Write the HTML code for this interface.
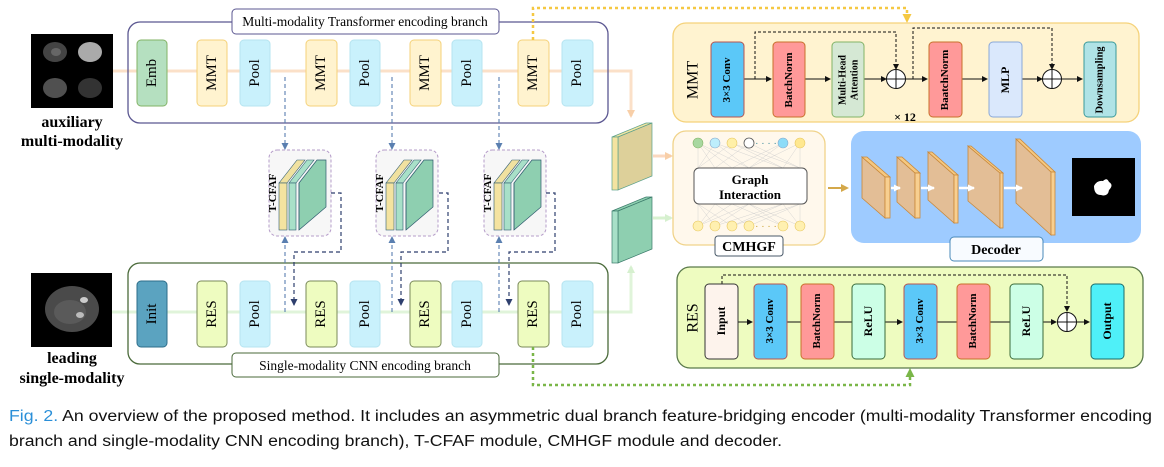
<!DOCTYPE html>
<html><head><meta charset="utf-8"><style>
html,body{margin:0;padding:0;background:#fff;}
svg{display:block;}
.s{font-family:"Liberation Serif",serif;}
.b{font-family:"Liberation Serif",serif;font-weight:bold;}
</style></head><body>
<svg width="1164" height="467" viewBox="0 0 1164 467" xmlns="http://www.w3.org/2000/svg">
<defs>
<marker id="ao" markerWidth="8" markerHeight="8" refX="6" refY="4" orient="auto" markerUnits="userSpaceOnUse"><path d="M0,0 L8,4 L0,8 z" fill="#f8cfa8"/></marker>
<marker id="ag" markerWidth="8" markerHeight="8" refX="6" refY="4" orient="auto" markerUnits="userSpaceOnUse"><path d="M0,0 L8,4 L0,8 z" fill="#d6f0cf"/></marker>
<marker id="ab" markerWidth="7" markerHeight="7" refX="6" refY="3.5" orient="auto" markerUnits="userSpaceOnUse"><path d="M0,0 L7,3.5 L0,7 z" fill="#5a7fb0"/></marker>
<marker id="ad" markerWidth="7" markerHeight="7" refX="6" refY="3.5" orient="auto" markerUnits="userSpaceOnUse"><path d="M0,0 L7,3.5 L0,7 z" fill="#2e3f6e"/></marker>
<marker id="ak" markerWidth="6" markerHeight="6" refX="5" refY="3" orient="auto" markerUnits="userSpaceOnUse"><path d="M0,0 L6,3 L0,6 z" fill="#111"/></marker>
<marker id="ay" markerWidth="9" markerHeight="9" refX="7" refY="4.5" orient="auto" markerUnits="userSpaceOnUse"><path d="M0,0 L9,4.5 L0,9 z" fill="#f5c842"/></marker>
<marker id="agr" markerWidth="9" markerHeight="9" refX="7" refY="4.5" orient="auto" markerUnits="userSpaceOnUse"><path d="M0,0 L9,4.5 L0,9 z" fill="#7ab648"/></marker>
<marker id="agd" markerWidth="8" markerHeight="8" refX="6" refY="4" orient="auto" markerUnits="userSpaceOnUse"><path d="M0,0 L8,4 L0,8 z" fill="#d4a84a"/></marker>
<marker id="aw" markerWidth="7" markerHeight="7" refX="6" refY="3.5" orient="auto" markerUnits="userSpaceOnUse"><path d="M0,0 L7,3.5 L0,7 z" fill="#fff"/></marker>
</defs>

<!-- brain images -->
<rect x="31" y="34" width="82" height="74" fill="#000"/>
<ellipse cx="55" cy="52" rx="12" ry="10" fill="#444"/>
<ellipse cx="56" cy="52" rx="5" ry="4" fill="#666"/>
<ellipse cx="90" cy="52" rx="12" ry="10" fill="#aaa"/>
<ellipse cx="55" cy="88" rx="12" ry="10" fill="#505050"/>
<ellipse cx="90" cy="88" rx="12" ry="10" fill="#333"/>
<text x="72" y="127" class="b" font-size="16" text-anchor="middle">auxiliary</text>
<text x="72" y="146" class="b" font-size="16" text-anchor="middle">multi-modality</text>
<rect x="31" y="273" width="81" height="74" fill="#000"/>
<ellipse cx="72" cy="309" rx="27" ry="23" fill="#4a4a4a"/>
<ellipse cx="70" cy="312" rx="16" ry="12" fill="#5a5a5a"/>
<ellipse cx="84" cy="300" rx="4" ry="3" fill="#ccc"/>
<ellipse cx="80" cy="315" rx="4" ry="3" fill="#bbb"/>
<text x="72" y="363" class="b" font-size="16" text-anchor="middle">leading</text>
<text x="72" y="383" class="b" font-size="16" text-anchor="middle">single-modality</text>

<!-- branch lines -->
<polyline points="113,71 631,71 631,116" fill="none" stroke="#fbe0c8" stroke-width="3" marker-end="url(#ao)"/>
<polyline points="112,312 631,312 631,267" fill="none" stroke="#e0f4da" stroke-width="3" marker-end="url(#ag)"/>

<!-- top branch -->
<rect x="128" y="22" width="480" height="101" rx="12" fill="none" stroke="#5b5791" stroke-width="1.3"/>
<rect x="137" y="40" width="30" height="66" rx="4" fill="#b5e0c0" stroke="#82b366"/>
<g fill="#fff3cf" stroke="#f5d27a">
<rect x="197" y="40" width="30" height="66" rx="4"/><rect x="306" y="40" width="31" height="66" rx="4"/><rect x="410" y="40" width="31" height="66" rx="4"/><rect x="518" y="40" width="31" height="66" rx="4"/></g>
<g fill="#c9f1fc" stroke="#b6e4f0">
<rect x="240" y="40" width="30" height="66" rx="4"/><rect x="350" y="40" width="30" height="66" rx="4"/><rect x="452" y="40" width="30" height="66" rx="4"/><rect x="562" y="40" width="31" height="66" rx="4"/></g>
<g class="s" font-size="15" text-anchor="middle" dominant-baseline="central">
<text transform="translate(152,73) rotate(-90)">Emb</text>
<text transform="translate(212,73) rotate(-90)">MMT</text>
<text transform="translate(255,73) rotate(-90)">Pool</text>
<text transform="translate(321,73) rotate(-90)">MMT</text>
<text transform="translate(365,73) rotate(-90)">Pool</text>
<text transform="translate(425,73) rotate(-90)">MMT</text>
<text transform="translate(467,73) rotate(-90)">Pool</text>
<text transform="translate(533,73) rotate(-90)">MMT</text>
<text transform="translate(577,73) rotate(-90)">Pool</text>
</g>
<rect x="232" y="9" width="267" height="25" rx="4" fill="#fff" stroke="#5b5791"/>
<text x="365" y="26" class="s" font-size="13.5" text-anchor="middle">Multi-modality Transformer encoding branch</text>

<!-- bottom branch -->
<rect x="128" y="263" width="480" height="101" rx="12" fill="none" stroke="#4a6a3a" stroke-width="1.3"/>
<rect x="137" y="281" width="30" height="66" rx="4" fill="#5ba3c0" stroke="#2e6e8a"/>
<g fill="#eefcc0" stroke="#7a8a5a">
<rect x="197" y="281" width="30" height="66" rx="4"/><rect x="306" y="281" width="31" height="66" rx="4"/><rect x="410" y="281" width="31" height="66" rx="4"/><rect x="518" y="281" width="31" height="66" rx="4"/></g>
<g fill="#c9f1fc" stroke="#b6e4f0">
<rect x="240" y="281" width="30" height="66" rx="4"/><rect x="350" y="281" width="30" height="66" rx="4"/><rect x="452" y="281" width="30" height="66" rx="4"/><rect x="562" y="281" width="31" height="66" rx="4"/></g>
<g class="s" font-size="15" text-anchor="middle" dominant-baseline="central">
<text transform="translate(152,314) rotate(-90)">Init</text>
<text transform="translate(212,314) rotate(-90)">RES</text>
<text transform="translate(255,314) rotate(-90)">Pool</text>
<text transform="translate(321,314) rotate(-90)">RES</text>
<text transform="translate(365,314) rotate(-90)">Pool</text>
<text transform="translate(425,314) rotate(-90)">RES</text>
<text transform="translate(467,314) rotate(-90)">Pool</text>
<text transform="translate(533,314) rotate(-90)">RES</text>
<text transform="translate(577,314) rotate(-90)">Pool</text>
</g>
<rect x="232" y="353" width="267" height="24" rx="4" fill="#fff" stroke="#4a6a3a"/>
<text x="365" y="370" class="s" font-size="13.5" text-anchor="middle">Single-modality CNN encoding branch</text>

<!-- T-CFAF modules -->
<g id="tc">
<rect x="269" y="150" width="62" height="86" rx="8" fill="#f7f7f7" stroke="#b59cc9" stroke-dasharray="3,2"/>
<polygon points="279,183 297,160 305,160 287,183" fill="#f0e1a0" stroke="#2e5a6e" stroke-width="0.6"/>
<rect x="279" y="183" width="8" height="47" fill="#f4e3a0" stroke="#2e5a6e" stroke-width="0.6"/>
<polygon points="289,183 307,160 314,160 296,183" fill="#a8e0c8" stroke="#2e5a6e" stroke-width="0.6"/>
<rect x="289" y="183" width="7" height="47" fill="#a8e0c8" stroke="#2e5a6e" stroke-width="0.6"/>
<polygon points="299,183 317,160 326,160 326,207 299,230" fill="#8ecfb0" stroke="#2e5a6e" stroke-width="0.7"/>
<line x1="299" y1="183" x2="299" y2="230" stroke="#2e5a6e" stroke-width="0.7"/>
<text transform="translate(273,193) rotate(-90)" class="b" font-size="11" text-anchor="middle" dominant-baseline="central">T-CFAF</text>
</g>
<use href="#tc" x="107"/>
<use href="#tc" x="215"/>

<!-- blue dashed arrows -->
<g stroke="#5a7fb0" stroke-width="1.1" stroke-dasharray="4,3" fill="none">
<line x1="285" y1="77" x2="285" y2="149" marker-end="url(#ab)"/>
<line x1="392" y1="77" x2="392" y2="149" marker-end="url(#ab)"/>
<line x1="499" y1="77" x2="499" y2="149" marker-end="url(#ab)"/>
<line x1="285" y1="312" x2="285" y2="237" marker-end="url(#ab)"/>
<line x1="392" y1="312" x2="392" y2="237" marker-end="url(#ab)"/>
<line x1="499" y1="312" x2="499" y2="237" marker-end="url(#ab)"/>
</g>
<g stroke="#2e3f6e" stroke-width="1.2" stroke-dasharray="4,3" fill="none">
<polyline points="331,193 341,193 341,252 294,252 294,305" marker-end="url(#ad)"/>
<polyline points="439,193 448,193 448,252 401,252 401,305" marker-end="url(#ad)"/>
<polyline points="546,193 555,193 555,252 509,252 509,305" marker-end="url(#ad)"/>
</g>

<!-- feature slabs -->
<polygon points="612,137 646,123 652,123 618,137" fill="#f2e4a0" stroke="#5aa08a" stroke-width="0.7"/>
<polygon points="618,137 652,123 652,176 618,190" fill="#ddd09a" stroke="#5aa08a" stroke-width="0.7"/>
<rect x="612" y="137" width="6" height="53" fill="#f4e3a0" stroke="#5aa08a" stroke-width="0.7"/>
<polygon points="612,211 646,197 652,197 618,211" fill="#8ecfb0" stroke="#3a7a6a" stroke-width="0.7"/>
<polygon points="618,211 652,197 652,249 618,263" fill="#8ecfb0" stroke="#3a7a6a" stroke-width="0.7"/>
<rect x="612" y="211" width="6" height="52" fill="#a8e0c8" stroke="#3a7a6a" stroke-width="0.7"/>
<line x1="653" y1="156" x2="671" y2="156" stroke="#fbd8c0" stroke-width="3" marker-end="url(#ao)"/>
<line x1="653" y1="218" x2="671" y2="218" stroke="#d8f2d0" stroke-width="3" marker-end="url(#ag)"/>

<!-- yellow dotted connector -->
<polyline points="533,40 533,8 907,8 907,21" fill="none" stroke="#f5c842" stroke-width="2.5" stroke-dasharray="3,3" marker-end="url(#ay)"/>
<!-- green dotted connector -->
<polyline points="533,347 533,385 910,385 910,370" fill="none" stroke="#7ab648" stroke-width="2.5" stroke-dasharray="3,3" marker-end="url(#agr)"/>

<!-- MMT detail -->
<rect x="673" y="23" width="466" height="99" rx="13" fill="#fff3d0" stroke="#f5d27a" stroke-width="1.3"/>
<text transform="translate(693,80) rotate(-90)" class="s" font-size="16" text-anchor="middle" dominant-baseline="central">MMT</text>
<g stroke="#111" stroke-width="1" fill="none">
<line x1="744" y1="79" x2="771" y2="79" marker-end="url(#ak)"/>
<line x1="805" y1="79" x2="830" y2="79" marker-end="url(#ak)"/>
<line x1="864" y1="79" x2="886" y2="79" marker-end="url(#ak)"/>
<line x1="906" y1="79" x2="927" y2="79" marker-end="url(#ak)"/>
<line x1="962" y1="79" x2="987" y2="79" marker-end="url(#ak)"/>
<line x1="1022" y1="79" x2="1042" y2="79" marker-end="url(#ak)"/>
<line x1="1062" y1="79" x2="1082" y2="79" marker-end="url(#ak)"/>
<polyline points="755,79 755,32 896,32 896,69" stroke-dasharray="3,2" marker-end="url(#ak)"/>
<polyline points="913,79 913,28 1052,28 1052,69" stroke-dasharray="3,2" marker-end="url(#ak)"/>
<circle cx="896" cy="79" r="9.5" fill="#fff"/><line x1="886.5" y1="79" x2="905.5" y2="79"/><line x1="896" y1="69.5" x2="896" y2="88.5"/>
<circle cx="1052" cy="79" r="9.5" fill="#fff"/><line x1="1042.5" y1="79" x2="1061.5" y2="79"/><line x1="1052" y1="69.5" x2="1052" y2="88.5"/>
</g>
<rect x="711" y="42" width="33" height="75" rx="4" fill="#5bc8f8" stroke="#b85450"/>
<rect x="773" y="42" width="32" height="75" rx="4" fill="#f99" stroke="#c8702a"/>
<rect x="832" y="42" width="32" height="75" rx="4" fill="#d5e8d4" stroke="#82b366"/>
<rect x="929" y="42" width="33" height="75" rx="4" fill="#f99" stroke="#c8702a"/>
<rect x="989" y="42" width="33" height="75" rx="4" fill="#dae8fc" stroke="#8aa8d8"/>
<rect x="1084" y="42" width="32" height="75" rx="4" fill="#b0e3e6" stroke="#3a9a9a"/>
<g class="b" text-anchor="middle" dominant-baseline="central">
<text transform="translate(727,80) rotate(-90)" font-size="11">3×3 Conv</text>
<text transform="translate(789,80) rotate(-90)" font-size="11">BatchNorm</text>
<text transform="translate(843,80) rotate(-90)" font-size="10">Multi-Head</text>
<text transform="translate(855,80) rotate(-90)" font-size="10">Attention</text>
<text transform="translate(945,80) rotate(-90)" font-size="11">BaatchNorm</text>
<text transform="translate(1005,80) rotate(-90)" font-size="12">MLP</text>
<text transform="translate(1100,80) rotate(-90)" font-size="10.5">Downsampling</text>
</g>
<text x="905" y="121" class="b" font-size="12" text-anchor="middle">× 12</text>

<!-- CMHGF -->
<rect x="673" y="131" width="152" height="114" rx="13" fill="#fff8ec" stroke="#f0d38a" stroke-width="1.3"/>
<g stroke="#ccc" stroke-width="0.4">
<path d="M698,143 L715,168 M698,143 L732,168 M698,143 L749,168 M715,143 L698,168 M715,143 L749,168 M715,143 L783,168 M732,143 L698,168 M732,143 L783,168 M732,143 L800,168 M749,143 L715,168 M749,143 L800,168 M783,143 L732,168 M783,143 L749,168 M800,143 L749,168 M800,143 L783,168 M698,143 L698,168 M800,143 L800,168"/>
<path d="M698,226 L715,204 M698,226 L732,204 M698,226 L749,204 M715,226 L698,204 M715,226 L749,204 M715,226 L783,204 M732,226 L698,204 M732,226 L783,204 M732,226 L800,204 M749,226 L715,204 M749,226 L800,204 M783,226 L732,204 M783,226 L749,204 M800,226 L749,204 M800,226 L783,204 M698,226 L698,204 M800,226 L800,204"/>
</g>
<circle cx="698" cy="143" r="5" fill="#a8d8a0" stroke="#82b366" stroke-width="0.6"/>
<circle cx="715" cy="143" r="5" fill="#bdeefc" stroke="#8ac" stroke-width="0.6"/>
<circle cx="732" cy="143" r="5" fill="#fff0a8" stroke="#e8c860" stroke-width="0.6"/>
<circle cx="749" cy="143" r="5" fill="#fff" stroke="#555" stroke-width="0.8"/>
<circle cx="783" cy="143" r="5" fill="#8ddcf8" stroke="#8ac" stroke-width="0.6"/>
<circle cx="800" cy="143" r="5" fill="#ffe890" stroke="#e8c860" stroke-width="0.6"/>
<text x="766" y="146" font-size="10" fill="#3a8a9a" text-anchor="middle" font-family="Liberation Sans,sans-serif">· · · ·</text>
<g fill="#fff0b0" stroke="#e8c860" stroke-width="0.6">
<circle cx="698" cy="226" r="5"/><circle cx="715" cy="226" r="5"/><circle cx="732" cy="226" r="5"/><circle cx="749" cy="226" r="5"/><circle cx="783" cy="226" r="5"/><circle cx="800" cy="226" r="5"/></g>
<text x="766" y="229" font-size="10" fill="#c8a030" text-anchor="middle" font-family="Liberation Sans,sans-serif">· · · ·</text>
<rect x="694" y="168" width="113" height="36" rx="5" fill="#fff" stroke="#555"/>
<text x="750" y="184" class="b" font-size="13" text-anchor="middle">Graph</text>
<text x="750" y="199" class="b" font-size="13" text-anchor="middle">Interaction</text>
<rect x="715" y="236" width="68" height="20" rx="3" fill="#fff" stroke="#4a5a6a"/>
<text x="749" y="251" class="b" font-size="14" text-anchor="middle">CMHGF</text>
<line x1="828" y1="188" x2="847" y2="188" stroke="#d4a84a" stroke-width="2" marker-end="url(#agd)"/>

<!-- Decoder -->
<rect x="851" y="131" width="290" height="112" rx="13" fill="#9ecbff"/>
<g stroke="#c8883a" stroke-width="0.8">
<polygon points="862,157 885,177 885,218 862,198" fill="#e3be96"/>
<polygon points="862,157 867,157 890,177 885,177" fill="#f5c880"/>
<rect x="885" y="177" width="5" height="41" fill="#f8cf90"/>
<polygon points="897,157 915,173 915,218 897,202" fill="#e3be96"/>
<polygon points="897,157 902,157 920,173 915,173" fill="#f5c880"/>
<rect x="915" y="173" width="5" height="45" fill="#f8cf90"/>
<polygon points="928,152 954,175 954,223 928,200" fill="#e3be96"/>
<polygon points="928,152 932,152 958,175 954,175" fill="#f5c880"/>
<rect x="954" y="175" width="4" height="48" fill="#f8cf90"/>
<polygon points="968,146 1000,173 1000,228 968,201" fill="#e3be96"/>
<polygon points="968,146 971,146 1003,173 1000,173" fill="#f5c880"/>
<rect x="1000" y="173" width="3" height="55" fill="#f8cf90"/>
<polygon points="1016,139 1051,172 1051,235 1016,203" fill="#e3be96"/>
<polygon points="1016,139 1020,139 1055,172 1051,172" fill="#f5c880"/>
<rect x="1051" y="172" width="4" height="63" fill="#f8cf90"/>
</g>
<g stroke="#fff" stroke-width="2.5">
<line x1="891" y1="188" x2="900" y2="188" marker-end="url(#aw)"/>
<line x1="921" y1="188" x2="934" y2="188" marker-end="url(#aw)"/>
<line x1="959" y1="188" x2="974" y2="188" marker-end="url(#aw)"/>
<line x1="1004" y1="188" x2="1022" y2="188" marker-end="url(#aw)"/>
</g>
<rect x="1072" y="158" width="63" height="58" fill="#000"/>
<path d="M1094,186 q3,-6 9,-5 q4,-4 6,1 q5,3 0,8 q-1,7 -8,5 q-7,0 -7,-9z" fill="#fff"/>
<rect x="950" y="237" width="93" height="24" rx="4" fill="#f8fbff" stroke="#4a8ab8"/>
<text x="996" y="254" class="b" font-size="14" text-anchor="middle">Decoder</text>

<!-- RES detail -->
<rect x="677" y="267" width="466" height="101" rx="13" fill="#eefcc0" stroke="#5a7a4a" stroke-width="1.3"/>
<text transform="translate(693,318) rotate(-90)" class="s" font-size="16" text-anchor="middle" dominant-baseline="central">RES</text>
<g stroke="#111" stroke-width="1" fill="none">
<line x1="738" y1="322" x2="752" y2="322" marker-end="url(#ak)"/>
<line x1="787" y1="322" x2="852" y2="322"/>
<line x1="885" y1="322" x2="902" y2="322" marker-end="url(#ak)"/>
<line x1="937" y1="322" x2="1010" y2="322"/>
<line x1="1043" y1="322" x2="1056" y2="322" marker-end="url(#ak)"/>
<line x1="1077" y1="322" x2="1089" y2="322" marker-end="url(#ak)"/>
<polyline points="722,284 722,275 1067,275 1067,311" stroke-dasharray="3,2" marker-end="url(#ak)"/>
<circle cx="1067" cy="322" r="9.5" fill="#fff"/><line x1="1057.5" y1="322" x2="1076.5" y2="322"/><line x1="1067" y1="312.5" x2="1067" y2="331.5"/>
</g>
<rect x="705" y="284" width="33" height="75" rx="4" fill="#fdf3ec" stroke="#333"/>
<rect x="754" y="284" width="33" height="75" rx="4" fill="#5bc8f8" stroke="#b85450"/>
<rect x="801" y="284" width="33" height="75" rx="4" fill="#f99" stroke="#c8702a"/>
<rect x="852" y="284" width="33" height="75" rx="4" fill="#ccffe6" stroke="#3a6a3a"/>
<rect x="904" y="284" width="33" height="75" rx="4" fill="#5bc8f8" stroke="#b85450"/>
<rect x="957" y="284" width="33" height="75" rx="4" fill="#f99" stroke="#c8702a"/>
<rect x="1010" y="284" width="33" height="75" rx="4" fill="#ccffe6" stroke="#3a6a3a"/>
<rect x="1091" y="284" width="33" height="75" rx="4" fill="#4ff0f8" stroke="#1a6a6a"/>
<g class="b" text-anchor="middle" dominant-baseline="central">
<text transform="translate(721,321) rotate(-90)" font-size="12">Input</text>
<text transform="translate(770,321) rotate(-90)" font-size="11">3×3 Conv</text>
<text transform="translate(817,321) rotate(-90)" font-size="11">BatchNorm</text>
<text transform="translate(868,321) rotate(-90)" font-size="12">ReLU</text>
<text transform="translate(920,321) rotate(-90)" font-size="11">3×3 Conv</text>
<text transform="translate(973,321) rotate(-90)" font-size="11">BatchNorm</text>
<text transform="translate(1026,321) rotate(-90)" font-size="12">ReLU</text>
<text transform="translate(1107,321) rotate(-90)" font-size="12">Output</text>
</g>

<!-- caption -->
<g font-family="Liberation Sans, sans-serif" font-size="15.5" fill="#111">
<text x="9" y="421" textLength="1143" lengthAdjust="spacingAndGlyphs"><tspan fill="#2a8fd8">Fig. 2.</tspan>   An overview of the proposed method. It includes an asymmetric dual branch feature-bridging encoder (multi-modality Transformer encoding</text>
<text x="9" y="446" textLength="773" lengthAdjust="spacingAndGlyphs">branch and single-modality CNN encoding branch), T-CFAF module, CMHGF module and decoder.</text>
</g>
</svg>
</body></html>
